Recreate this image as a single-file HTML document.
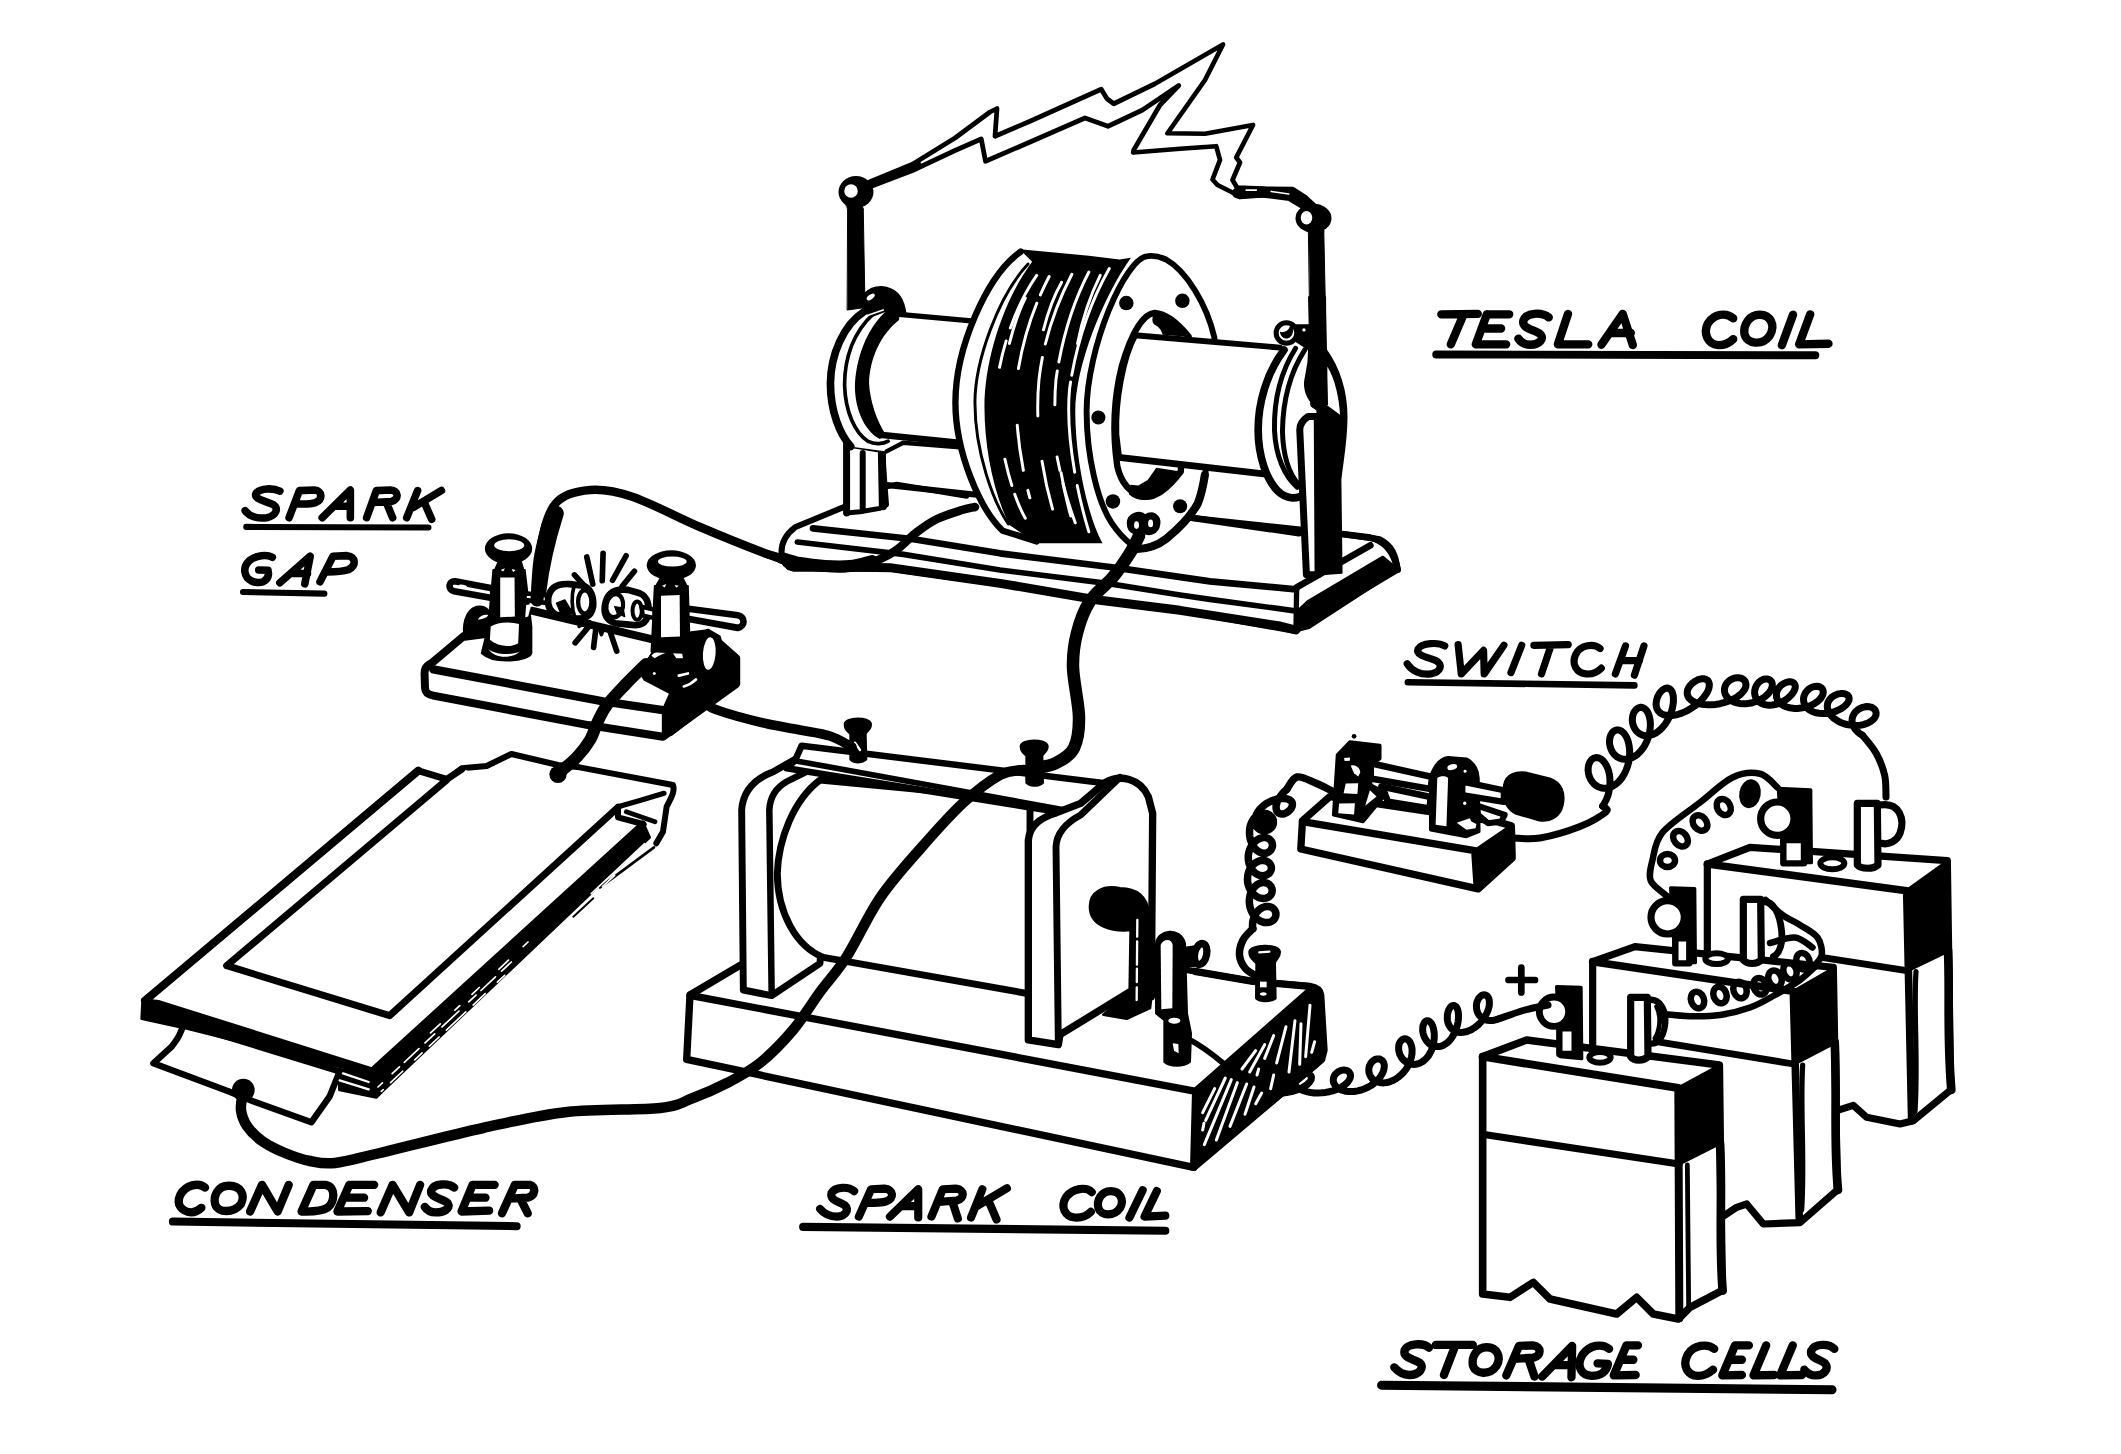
<!DOCTYPE html>
<html><head><meta charset="utf-8"><title>Tesla coil hookup</title>
<style>
html,body{margin:0;padding:0;background:#fff;}
body{width:2121px;height:1454px;overflow:hidden;font-family:"Liberation Sans",sans-serif;}
svg{display:block;}
.s{fill:none;stroke:#000;stroke-linecap:round;stroke-linejoin:round;}
.w{fill:#fff;stroke:#000;stroke-linecap:round;stroke-linejoin:round;}
.k{fill:#000;stroke:#000;stroke-linecap:round;stroke-linejoin:round;}
.wl{fill:none;stroke:#fff;stroke-linecap:round;stroke-linejoin:round;}
.wf{fill:#fff;stroke:none;}
.kf{fill:#000;stroke:none;}
</style></head><body>
<svg width="2121" height="1454" viewBox="0 0 2121 1454">
<rect x="0" y="0" width="2121" height="1454" fill="#fff"/>
<!-- 01_tesla_base.svg -->
<g transform="translate(740,300) scale(0.33333)" class="s" stroke-width="17">
<!-- base top surface + front, white fill -->
<path class="w" stroke-width="18" d="M440,555 L310,622 L165,682 C135,705 122,735 125,765 C128,790 140,800 160,806 L450,806 L780,852 L1044,896 L1320,932 L1665,993 L1973,809 C1968,765 1955,735 1920,718 L1806,702 L1359,654 Z"/>
<!-- front molding lines -->
<path d="M219,685 L516,717 L780,760 L1110,801 L1162,808 L1410,844 L1668,868" stroke-width="20"/>
<path d="M172,726 L490,763 L780,810 L1077,847 L1120,853 L1320,885 L1410,898 L1675,934" stroke-width="17"/>
<path d="M150,798 L450,803 L780,850 L1044,895 L1074,900 L1320,931 L1620,978 L1668,990" stroke-width="27"/>
<!-- right end -->
<path d="M1891,736 L1670,862" stroke-width="20"/>
<path class="k" stroke-width="10" d="M1704,905 L1928,772 L1973,809 L1707,982 L1665,993 L1672,935 Z"/>
<path d="M1670,862 L1668,990" stroke-width="16"/>
<!-- back edge (visible pieces) -->
<path d="M440,560 L470,553 L680,588" stroke-width="16"/>
<path d="M1359,654 L1677,700" stroke-width="19"/>
<path d="M1806,702 L1891,713 C1935,722 1962,755 1973,809" stroke-width="20"/>
</g>

<!-- 02_tesla_left.svg -->
<g transform="translate(780,280) scale(0.16644)" class="s" stroke-width="28">
<!-- post -->
<path class="w" stroke-width="30" d="M400,990 L400,1400 L480,1392 L600,1372 L640,1350 L615,1025 Z"/>
<path d="M400,985 L400,1400" stroke-width="42"/>
<path d="M497,1040 L497,1385" stroke-width="36"/>
<path d="M612,1030 L618,1360" stroke-width="48"/>
<!-- tube body white -->
<path class="wf" d="M700,200 L1180,240 L1090,985 L620,940 C420,900 400,400 700,200 Z"/>
<!-- outer arcs -->
<path class="wf" d="M500,190 C330,300 300,500 300,620 C300,800 360,930 420,1000 L640,1030 L640,190 Z"/>
<path d="M505,190 C380,270 305,450 303,620 C303,790 360,930 425,1000" stroke-width="46"/>
<path d="M565,200 C440,310 388,470 388,630 C392,790 450,920 530,970 C570,990 620,985 650,968" stroke-width="22"/>
<!-- tube end crescent -->
<path class="kf" d="M640,185 C520,290 452,480 450,650 C455,800 520,915 600,955 L640,935 C580,850 540,720 535,620 C538,480 600,330 715,240 L720,200 Z"/>
<!-- tube lines -->
<path d="M700,205 L1165,247" stroke-width="32"/>
<path d="M600,930 L1075,978" stroke-width="40"/>
<path d="M640,1030 L740,978 L1080,1005" stroke-width="26"/>
<!-- clamp -->
<path class="k" stroke-width="10" d="M505,85 C540,50 590,35 640,45 C700,60 745,110 755,205 L700,200 L640,185 L560,215 L500,195 Z"/>
<ellipse class="wf" cx="545" cy="102" rx="28" ry="14" transform="rotate(-35 545 102)"/>
<path class="wl" d="M520,215 L620,180" stroke-width="10"/>
</g>

<!-- 03_tesla_coil.svg -->
<g transform="translate(930,230) scale(0.22696)" class="s" stroke-width="24">
<!-- left tube behind coil -->

<!-- left flange white disc -->
<path class="wf" d="M400,95 C250,200 112,520 112,760 C112,980 220,1230 320,1325 L470,1370 L830,1372 L880,130 Z"/>
<path stroke-width="28" d="M400,95 C250,200 112,520 112,760 C112,980 220,1230 320,1325 L470,1372"/>
<path stroke-width="13" d="M432,150 C300,290 198,580 198,760 C198,980 280,1200 345,1295"/>
<!-- black windings -->
<path class="kf" d="M395,85 L560,100 L700,114 L835,130 L885,122 C760,300 640,600 640,800 C640,1000 690,1250 760,1380 L470,1380 L350,1300 C280,1160 240,960 240,780 C240,560 330,300 450,140 Z"/>
<!-- white slivers -->
<g class="wl" stroke-width="13">
<path d="M470,200 C400,300 330,460 300,640" stroke-dasharray="260 60 120 400"/>
<path d="M525,205 C460,330 410,470 385,640 C370,800 390,1000 440,1180" stroke-dasharray="90 40 300 250 200 90 200"/>
<path d="M625,195 C560,320 500,480 480,660 C465,820 480,1020 540,1230" stroke-dasharray="330 60 260 200 230"/>
<path d="M700,185 C630,320 580,480 555,660 C540,820 560,1040 620,1260" stroke-dasharray="420 40 150 300 250"/>
<path d="M790,170 C700,330 640,520 615,700 C600,860 630,1100 700,1330" stroke-dasharray="500 30 400 60 400"/>
<path d="M330,1010 C350,1100 380,1200 420,1270" stroke-dasharray="120 40 200"/>
<path d="M560,1000 C580,1100 600,1180 640,1290" stroke-dasharray="60 60 200"/>
<path d="M420,300 C390,360 370,420 350,500" />
<path d="M580,230 C540,300 520,360 500,440" />
<path d="M750,200 C700,300 670,400 650,500" />
</g>
<!-- right flange -->
<path class="w" stroke-width="26" d="M960,115 C860,120 690,520 690,800 C690,1000 740,1200 800,1290 C830,1335 860,1365 890,1388 C940,1420 1000,1395 1043,1359 C1090,1320 1150,1260 1180,1205 C1200,1160 1209,1101 1215,1060 C1240,960 1250,860 1250,760 C1262,600 1262,520 1252,470 C1220,330 1130,180 1040,130 C1010,116 985,112 960,115 Z"/>
<path d="M1211,1080 C1200,1150 1190,1180 1180,1205 C1150,1260 1090,1320 1043,1359 C1000,1392 950,1410 885,1405" stroke-width="36"/>
<!-- hole -->
<path class="w" stroke-width="28" d="M990,365 C930,370 880,480 845,600 C810,740 805,900 825,1040 C840,1110 880,1160 945,1176 C1010,1180 1070,1110 1105,1064 L1140,470 C1100,420 1050,370 990,365 Z"/>
<path class="kf" d="M985,370 C1050,375 1100,420 1135,470 L1025,462 C1020,440 1005,425 990,418 C975,405 980,385 985,370 Z"/>
<path class="kf" d="M997,1047 L959,1101 L918,1126 L884,1122 L876,1164 C900,1185 930,1192 951,1189 C980,1185 1005,1170 1026,1151 L1084,1081 L1105,1064 Z"/>
<!-- bolts -->
<circle class="kf" cx="865" cy="322" r="32"/>
<circle class="kf" cx="1112" cy="312" r="32"/>
<circle class="kf" cx="742" cy="826" r="31"/>
<circle class="kf" cx="806" cy="1196" r="32"/>
<circle class="kf" cx="1102" cy="1217" r="31"/>
<!-- terminal -->
<path class="k" stroke-width="10" d="M872,1292 C872,1250 925,1235 948,1258 C980,1235 1015,1258 1010,1295 C1005,1340 960,1348 942,1330 C915,1352 872,1335 872,1292 Z"/>
<ellipse class="wf" cx="910" cy="1300" rx="11" ry="17"/>
<ellipse class="wf" cx="972" cy="1293" rx="11" ry="17"/>
<!-- right tube -->
<path class="wf" d="M903,464 L1542,518 L1500,1078 L832,1002 C812,850 830,600 903,464 Z"/>
<path d="M903,464 L1542,518" stroke-width="26"/>
<path d="M832,1002 L1500,1078" stroke-width="30"/>
<path d="M903,464 C850,560 815,750 820,900 L832,1002" stroke-width="28"/>

</g>

<!-- 04_tesla_right.svg -->
<g transform="translate(1130,300) scale(0.16644)" class="s" stroke-width="28">
<!-- flange right edge double line -->

<!-- tube end flange -->
<path class="wf" d="M920,290 C760,500 730,900 820,1060 C880,1160 960,1200 1040,1170 L1040,290 Z"/>
<path d="M925,300 C820,440 770,620 770,780 C770,940 820,1080 890,1150 C940,1195 1000,1200 1040,1170" stroke-width="46"/>
<path d="M995,290 C900,440 865,620 868,780 C875,940 930,1060 1005,1125" stroke-width="30"/>
<path d="M1050,300 C960,440 918,620 916,790 C920,940 960,1050 1015,1110" stroke-width="30"/>
<!-- support board -->
<path class="k" stroke-width="10" d="M1175,295 C1250,400 1300,520 1302,700 C1302,850 1275,980 1265,1080 L1272,1640 L1130,1650 L1125,640 C1080,620 1050,560 1050,500 C1055,440 1075,410 1075,300 Z"/>
<path class="wf" d="M1185,400 C1230,470 1255,580 1262,690 L1180,630 Z"/>
<path class="w" stroke-width="42" d="M1125,700 L1070,700 C1040,720 1020,740 1020,780 L1060,1650 L1130,1650 Z"/>
<!-- rod -->
<path class="k" stroke-width="6" d="M1075,-20 L1175,-20 L1180,700 L1090,640 Z"/>
<!-- clamp -->
<path class="k" stroke-width="8" d="M1000,150 L1075,150 L1075,300 L1000,250 Z"/>
<circle class="w" cx="940" cy="198" r="62" stroke-width="30"/>
<path class="k" stroke-width="6" d="M905,195 C905,235 965,245 975,195 C985,165 965,150 965,150 C960,190 920,200 905,195 Z"/>
<circle class="wf" cx="1045" cy="180" r="10"/>
</g>

<!-- 05_tesla_top.svg -->
<g transform="translate(830,30) scale(0.25)" class="s" stroke-width="19">
<!-- posts -->
<path class="k" stroke-width="4" d="M72,715 L133,715 L140,1110 L70,1120 Z"/>
<path class="k" stroke-width="4" d="M1915,800 L1975,800 L1990,1500 L1925,1500 Z"/>
<!-- lightning -->
<path d="M160,607 L330,537 L500,432 L640,328 L668,314 L660,425 L800,365 L1085,237 L1108,275 L1135,295 L1300,215 L1572,58 L1500,200 L1350,413 L1500,415 L1692,380 L1625,510 L1640,530 L1610,600 L1628,630 L1750,635 L1850,636 L1900,668 L1935,700"/>
<path d="M165,625 L330,562 L500,482 L605,436 L622,525 L750,470 L1020,352 L1090,377 L1112,385 L1250,320 L1395,222 L1320,300 L1215,480 L1213,490 L1400,475 L1545,465 L1560,520 L1530,598 L1550,620 L1610,650 L1640,668 L1750,660 L1840,664 L1885,700"/>
<path stroke-width="30" d="M150,622 L350,538"/>
<path stroke-width="44" d="M1630,652 L1728,648 L1840,662 L1900,698"/>
<path class="wl" stroke-width="7" d="M1665,640 L1705,640 M1765,646 L1835,656"/>
<!-- balls -->
<ellipse cx="104" cy="648" rx="70" ry="64" class="kf"/>
<circle cx="84" cy="644" r="27" class="wf"/>
<path class="k" stroke-width="2" d="M60,690 L125,690 L135,720 L72,720 Z"/>
<ellipse cx="1934" cy="753" rx="72" ry="58" class="kf"/>
<ellipse cx="1906" cy="751" rx="23" ry="27" class="wf"/>
<path class="k" stroke-width="2" d="M1905,790 L1975,790 L1975,810 L1915,810 Z"/>
</g>

<!-- 10_sparkgap.svg -->
<g transform="translate(415,520) scale(0.16644)" class="s" stroke-width="40">
<!-- slab -->
<path class="w" stroke-width="48" d="M290,700 L100,860 C60,880 55,900 58,940 L60,1010 C62,1040 80,1050 110,1055 L1040,1232 L1490,1302 L1930,985 L1930,830 L1760,680 L1440,720 L700,545 L460,600 Z"/>
<path d="M110,897 L1130,1090 L1490,1142" stroke-width="50"/>
<!-- right black mass -->
<path class="k" stroke-width="14" d="M1490,1140 L1535,1040 L1380,960 L1345,905 L1385,860 L1440,780 L1640,720 L1700,690 L1760,660 L1830,700 L1850,780 L1930,830 L1930,985 L1540,1290 L1490,1300 Z"/>
<path class="kf" d="M1385,860 L1440,760 L1660,700 L1660,900 L1400,960 Z"/>
<ellipse class="wf" cx="1768" cy="802" rx="38" ry="98" transform="rotate(4 1768 802)"/>
<path class="wl" stroke-width="16" d="M1585,935 L1640,922"/>
<path class="wl" stroke-width="16" d="M1615,1000 C1650,990 1670,975 1688,958"/>
<path class="wf" d="M1420,815 C1440,790 1480,780 1530,790 C1500,800 1470,810 1440,830 Z"/>
<path class="wf" d="M1550,800 L1600,770 L1610,830 L1570,830 Z"/>
<circle class="wf" cx="1438" cy="922" r="9"/>
<!-- left rear small knob -->
<path class="k" stroke-width="10" d="M300,720 C280,640 300,540 370,520 C420,510 450,540 460,580 L460,700 Z"/>
<path class="wf" d="M378,600 C390,575 420,565 440,572 C430,590 400,595 378,600 Z"/>
<!-- left rod -->
<path class="w" stroke-width="40" d="M470,412 L240,368 C200,365 195,420 235,428 L470,470 Z"/>
<path class="wf" d="M262,395 a26,10 12 1 0 52,10 a26,10 12 1 0 -52,-10 Z"/>
<!-- left post body -->
<path class="k" stroke-width="10" d="M470,300 L660,300 L700,640 L700,800 C690,850 470,870 400,800 L440,640 Z"/>
<path class="wf" d="M512,345 L598,345 L600,580 L512,585 Z"/>
<path class="wf" d="M455,640 C500,610 570,610 625,625 L620,740 C570,770 500,760 450,720 Z"/>
<path class="wf" d="M440,775 C480,810 580,815 630,790 C580,835 480,835 440,775 Z"/>
<path class="kf" d="M500,240 L640,240 L660,310 L470,310 Z"/>
<path class="wf" d="M515,300 L540,290 L530,310 Z"/><path class="wf" d="M580,295 L605,300 L590,312 Z"/>
<ellipse class="kf" cx="562" cy="172" rx="142" ry="92"/>
<ellipse class="wf" cx="566" cy="152" rx="90" ry="36"/>
<!-- rod right of left post to electrode -->
<path class="w" stroke-width="28" d="M655,440 L810,455 L800,500 L660,480 Z"/>
<path class="wf" d="M668,510 L700,505 L680,580 L662,585 Z"/>
<!-- wire up from left post -->
<path d="M745,430 C760,300 790,150 850,-40" stroke-width="88"/>
<!-- left electrode -->
<path class="w" stroke-width="40" d="M800,470 C810,400 860,380 930,385 L1010,395 C1060,410 1075,470 1070,520 C1060,580 1020,600 960,590 L850,570 C810,550 795,520 800,470 Z"/>
<ellipse class="w" cx="1020" cy="492" rx="40" ry="70" stroke-width="26"/>
<path class="k" stroke-width="8" d="M850,500 L900,480 L930,530 L960,560 L880,570 Z"/>
<path d="M955,400 C940,450 940,530 960,585" stroke-width="22"/>
<path d="M760,560 L960,610" stroke-width="30"/>
<!-- right electrode -->
<path class="w" stroke-width="40" d="M1140,520 C1150,440 1200,410 1280,420 L1350,440 C1400,460 1410,520 1400,570 C1390,620 1350,640 1300,630 L1200,620 C1150,600 1135,570 1140,520 Z"/>
<ellipse class="w" cx="1200" cy="515" rx="50" ry="70" stroke-width="26" transform="rotate(10 1200 515)"/>
<ellipse class="w" cx="1335" cy="545" rx="28" ry="55" stroke-width="24"/>
<path class="k" stroke-width="8" d="M1200,520 L1250,530 L1260,580 L1215,560 Z"/>
<path class="w" stroke-width="26" d="M1360,520 L1440,540 L1440,590 L1370,575 Z"/>
<path d="M1180,650 L1440,720" stroke-width="30"/>
<!-- right post -->
<path class="k" stroke-width="10" d="M1440,395 L1640,395 L1650,720 L1640,800 L1420,790 Z"/>
<path class="wf" d="M1478,455 L1590,450 L1592,700 L1478,705 Z"/>
<path class="kf" d="M1480,330 L1605,330 L1640,400 L1440,400 Z"/>
<path class="wf" d="M1485,395 L1510,385 L1500,405 Z"/><path class="wf" d="M1560,390 L1585,395 L1570,407 Z"/>
<ellipse class="kf" cx="1540" cy="272" rx="148" ry="90"/>
<ellipse class="wf" cx="1546" cy="250" rx="86" ry="30"/>
<!-- right rod -->
<path class="w" stroke-width="40" d="M1630,532 L1940,572 C1985,580 1985,640 1940,648 L1630,592 Z"/>
<!-- spark rays -->
<g stroke-width="34">
<path d="M1130,200 L1125,365"/><path d="M1032,222 L1068,385"/><path d="M958,330 L1040,420"/>
<path d="M1268,215 L1187,362"/><path d="M1318,308 L1245,398"/>
<path d="M962,738 L1040,645"/><path d="M1073,765 L1088,640"/><path d="M1212,788 L1165,650"/>
<path d="M985,640 L1050,610 L1020,660" stroke-width="20"/><path d="M1100,640 L1120,690 L1140,640" stroke-width="20"/>
</g>
</g>

<!-- 20_condenser.svg -->
<g transform="translate(100,730) scale(0.33333)" class="s" stroke-width="18">
<!-- back foil tab -->
<path class="wf" d="M1040,150 L1085,115 L1160,108 L1234,72 L1374,105 L1439,112 L1719,165 C1725,185 1715,200 1700,230 L1689,305 L1669,340 L1554,262 L1554,230 Z"/>
<path stroke-width="18" d="M1040,150 L1085,115 L1160,108 L1234,72 L1374,105 L1439,112 L1719,165 C1725,185 1715,200 1700,230 L1689,305 L1669,340"/>
<path d="M1554,230 C1610,215 1660,200 1692,190" stroke-width="15.6"/>
<path d="M1579,245 L1665,275" stroke-width="14.4"/>
<!-- front foil tab -->
<path class="w" stroke-width="19.2" d="M250,880 C245,910 230,930 215,950 L160,1000 L385,1084 L459,1114 L634,1177 L689,1099 L719,1024 Z"/>
<!-- side stack (black band) -->
<path class="k" stroke-width="10" d="M1629,280 L1648,322 L846,1084 L829,1101 L719,1079 L719,1020 L824,1017 Z"/>
<path d="M1662,352 L1500,472" stroke-width="8"/>
<path d="M1480,505 L1420,560" stroke-width="6"/>
<g class="wl" stroke-width="5">
<path d="M1634,341 L1474,491" />
<path d="M1544,436 L1314,651" stroke-dasharray="50 30 20 60 40 30"/>
<path d="M1234,696 L834,1071" stroke-dasharray="40 25 60 20 30 40 70 30"/>
<path d="M1214,736 L844,1084" stroke-dasharray="30 50 50 30 80 30 40 30"/>
<path d="M1284,636 L984,916" stroke-dasharray="20 60 40 80 30 50"/>
<path d="M729,1030 L806,1056" stroke-width="7"/>
<path d="M719,1051 L806,1078" stroke-width="7"/>
</g>
<!-- top plate -->
<path class="wf" d="M955,122 L1040,148 L1085,118 L1554,232 L1554,262 L1629,282 L824,1017 L135,812 Z"/>
<path stroke-width="20.4" d="M135,812 L955,122 L1040,148 L1085,118"/>
<path stroke-width="18" d="M1554,232 L1554,262 L1629,282"/>
<path d="M955,122 L135,812" stroke-width="24"/>
<path class="k" stroke-width="8" d="M128,808 L180,815 L829,1020 L829,1030 L719,1010 L245,892 L125,866 Z"/>
<path d="M1629,283 L824,1017" stroke-width="21.6"/>
<!-- inner foil -->
<path d="M1040,150 L380,707 L869,857 L1554,232" stroke-width="21"/>
<!-- solder blobs -->
<circle class="kf" cx="1374" cy="133" r="26"/>
<circle class="kf" cx="430" cy="1080" r="34"/>
</g>

<!-- 30_sparkcoil.svg -->
<g transform="translate(660,700) scale(0.33333)" class="s" stroke-width="19.5">
<!-- base -->
<path class="w" stroke-width="22" d="M90,885 L250,790 L1574,809 L1779,844 L1949,859 C1970,862 1980,870 1982,885 L1992,1050 L1985,1078 L1601,1402 L80,1078 Z"/>
<path class="wf" d="M250,700 L1600,700 L1600,850 L250,850 Z"/>
<path d="M90,886 L1607,1174 L1601,1402" stroke-width="22"/>
<path d="M1607,1174 L1950,872" stroke-width="22"/>
<path d="M1574,809 L1779,844 L1949,859" stroke-width="19.5"/>
<!-- hatching right end -->
<path class="k" stroke-width="12" d="M1607,1174 L1950,875 L1982,884 L1991,1039 L1969,1098 L1832,1211 L1628,1384 L1601,1402 Z"/>
<g class="wl" stroke-width="9">
<path d="M1787,1052 L1746,1107"/><path d="M1814,1034 L1769,1116"/><path d="M1841,1007 L1814,1075"/>
<path d="M1878,980 L1850,1089"/><path d="M1905,962 L1887,1116"/><path d="M1923,971 L1919,1093"/>
<path d="M1950,916 L1937,1070"/><path d="M1964,1025 L1955,1057"/><path d="M1841,1125 L1832,1166"/>
<path d="M1796,1107 L1791,1125"/>
<path d="M1664,1166 L1628,1238"/><path d="M1696,1134 L1637,1261"/><path d="M1714,1139 L1633,1334"/>
<path d="M1732,1148 L1669,1320"/><path d="M1760,1152 L1710,1279"/><path d="M1782,1161 L1755,1243"/>
<path d="M1805,1179 L1787,1211"/><path d="M1632,1270 L1628,1290"/>
</g>
<!-- left cheek -->
<path class="w" stroke-width="20.7" d="M250,870 L245,330 C250,260 300,230 340,215 L440,158 L520,175 L480,790 L335,887 Z"/>
<path d="M335,885 L328,330 C330,290 350,262 380,245 L450,210" stroke-width="19.5"/>
<!-- coil cylinder -->
<path class="w" stroke-width="20.7" d="M480,240 C400,300 355,420 352,520 C352,640 410,740 490,772 L1110,882 L1110,300 Z"/>
<!-- top bar -->
<path class="w" stroke-width="19.5" d="M380,205 L405,182 L425,137 L1335,250 L1269,340 L1258,346 Z"/>
<path d="M405,182 L1269,340" stroke-width="17"/>
<!-- right cheek -->
<path class="w" stroke-width="22" d="M1105,1020 L1105,420 C1110,370 1150,350 1190,338 L1262,310 L1335,248 C1380,222 1440,235 1465,290 L1478,340 L1474,890 L1409,876 L1200,1004 L1195,1034 Z"/>
<path d="M1195,1030 L1188,440 C1190,400 1215,370 1262,345 L1380,232" stroke-width="20.7"/>
<!-- vibrator -->
<path class="k" stroke-width="8" d="M1290,620 C1290,575 1330,555 1380,565 C1430,565 1462,590 1466,640 L1484,800 L1470,924 L1400,956 L1330,944 L1409,880 L1412,690 C1360,695 1290,680 1290,620 Z"/>
<path class="wl" stroke-width="7" d="M1432,660 L1430,900" stroke-dasharray="50 14 70 12 40 16"/>
<!-- contact post -->
<path class="k" stroke-width="8" d="M1489,730 C1495,690 1560,680 1574,730 L1580,940 L1592,1000 L1589,1085 C1570,1100 1530,1100 1514,1085 L1514,960 L1489,940 Z"/>
<path class="wf" d="M1502,735 C1510,715 1535,715 1538,735 L1537,925 L1504,928 Z"/>
<ellipse class="wf" cx="1543" cy="962" rx="18" ry="9"/>
<path class="wf" d="M1538,1030 L1555,1032 L1556,1060 L1542,1052 Z"/>
<ellipse class="w" cx="1622" cy="762" rx="18" ry="32" stroke-width="22" transform="rotate(12 1622 762)"/>
<path class="kf" d="M1574,740 L1610,735 L1605,800 L1578,805 Z"/>
<path d="M1589,1019 C1630,1040 1660,1065 1689,1089" stroke-width="17.1"/>
<!-- binding post 3 -->
<path class="k" stroke-width="8" d="M1769,755 C1770,735 1855,730 1859,755 C1860,775 1845,778 1844,790 L1846,895 C1830,905 1800,905 1789,895 L1790,790 C1780,778 1768,775 1769,755 Z"/>
<path class="wl" stroke-width="7" d="M1798,757 L1828,755"/>
<path class="wf" d="M1800,845 L1820,845 L1820,862 L1800,862 Z"/><ellipse class="wf" cx="1810" cy="882" rx="10" ry="5"/>
<!-- binding posts 1,2 on top bar -->
<path class="k" stroke-width="8" d="M555,72 C556,52 628,50 632,72 C633,90 618,92 616,102 L618,178 C605,190 580,188 572,178 L572,102 C565,92 554,90 555,72 Z"/>
<path class="wl" stroke-width="7" d="M585,128 L600,150"/>
<path class="k" stroke-width="8" d="M1083,138 C1084,118 1158,116 1162,138 C1163,156 1148,158 1146,168 L1148,248 C1135,260 1108,258 1100,248 L1100,168 C1093,158 1082,156 1083,138 Z"/>
</g>

<!-- 40_switch.svg -->
<g transform="translate(1280,715) scale(0.16644)" class="s" stroke-width="42">
<!-- slab -->
<path class="w" stroke-width="44" d="M135,635 L300,490 L1300,640 L1390,665 L1395,860 L1190,1045 L125,805 Z"/>
<path d="M135,640 L1170,815 L1185,1040" stroke-width="44"/>
<path class="k" stroke-width="20" d="M1170,815 L1390,665 L1395,860 L1190,1045 Z"/>
<!-- lever blades -->
<path class="w" stroke-width="40" d="M545,290 L915,372 L905,445 L545,382 Z"/>
<path class="w" stroke-width="40" d="M610,430 L905,492 L900,562 L650,522 Z"/>
<!-- hinge post -->
<path class="k" stroke-width="20" d="M345,240 L420,162 L600,182 L600,262 L545,300 L545,420 L640,470 L500,640 L322,600 Z"/>
<path class="wf" d="M385,258 L420,256 L420,275 L388,276 Z"/>
<path class="wf" d="M425,305 C450,295 480,315 482,345 L470,370 L445,350 Z"/>
<path class="wf" d="M395,412 L470,410 L465,475 L382,470 Z"/>
<path class="wf" d="M355,532 L450,530 L445,598 L350,590 Z"/>
<path class="wf" d="M540,452 L580,490 L512,545 Z"/>
<circle class="kf" cx="445" cy="128" r="14"/>
<!-- right post -->
<path class="k" stroke-width="20" d="M905,372 C930,300 960,262 1010,256 L1120,265 C1170,290 1190,340 1190,380 L1195,700 L1120,730 L905,690 Z"/>
<path class="wf" d="M945,380 C960,365 1000,365 1010,380 L1000,668 L935,660 Z"/>
<ellipse class="wf" cx="1035" cy="313" rx="30" ry="17" transform="rotate(-15 1035 313)"/>
<circle class="wf" cx="1112" cy="338" r="9"/>
<path class="wf" d="M1062,648 L1120,690 L1175,680 L1180,655 L1150,640 L1140,620 Z"/>
<circle class="wf" cx="1110" cy="530" r="10"/>
<!-- handle -->
<path class="w" stroke-width="38" d="M1095,400 L1345,452 L1345,522 L1095,482 Z"/>
<path class="w" stroke-width="36" d="M1185,545 L1350,600 L1330,640 L1250,650 L1190,600 Z"/>
<path class="k" stroke-width="20" d="M1350,420 C1360,360 1420,340 1480,350 L1620,385 C1690,410 1710,470 1695,540 C1680,610 1620,640 1560,630 L1420,590 C1360,560 1340,500 1350,420 Z"/>
</g>

<!-- 50_cells.svg -->
<g transform="translate(1400,860) scale(0.33333)" class="s" stroke-width="20.4">
<!-- ===== cell 3 (back) ===== -->
<path class="w" stroke-width="21.6" d="M922,12 L1050,-38 L1642,2 L1652,690 L1540,782 L1500,792 L1400,772 L1360,736 L1310,752 L922,700 Z"/>
<path class="k" stroke-width="10" d="M1520,92 L1642,4 L1640,275 L1522,332 Z"/>
<path d="M922,12 L1520,92 L1535,782" stroke-width="22.8"/>
<path d="M1265,292 L1520,332" stroke-width="20.4"/>
<path d="M1548,335 C1540,450 1555,600 1545,755" stroke-width="15.6"/>
<path d="M1644,270 C1650,400 1640,520 1654,690" stroke-width="26"/>
<!-- c3 terminals -->
<path class="k" stroke-width="10" d="M1135,-215 L1232,-210 L1234,8 L1150,8 Z"/>
<path class="w" stroke-width="19.2" d="M1150,-60 L1212,-60 L1212,10 L1150,10 Z"/>
<circle class="w" cx="1132" cy="-124" r="50" stroke-width="21.6"/>
<path class="w" stroke-width="21.6" d="M1372,-170 L1432,-170 L1434,15 C1420,28 1385,28 1372,15 Z"/>
<path d="M1440,-165 C1500,-175 1515,-120 1500,-80 C1490,-55 1465,-45 1445,-50" stroke-width="21.6"/>
<ellipse class="w" cx="1297" cy="10" rx="36" ry="18" stroke-width="18"/>
<!-- ===== cell 2 (middle) ===== -->
<path class="w" stroke-width="21.6" d="M578,305 L705,260 L1300,322 L1312,990 L1200,1088 L1090,1092 L1040,1032 L1010,1042 L965,1072 L578,1000 Z"/>
<path class="k" stroke-width="10" d="M1180,394 L1300,325 L1305,548 L1182,612 Z"/>
<path d="M578,305 L1180,394 L1198,1085" stroke-width="22.8"/>
<path d="M770,545 L1180,612" stroke-width="20.4"/>
<path d="M1208,615 C1200,750 1215,900 1205,1050" stroke-width="15.6"/>
<path d="M1304,545 C1312,700 1300,850 1314,990" stroke-width="26"/>
<!-- c2 terminals -->
<path class="k" stroke-width="10" d="M812,84 L884,86 L886,308 L825,308 Z"/>
<path class="w" stroke-width="19.2" d="M826,235 L868,235 L868,310 L826,310 Z"/>
<circle class="w" cx="803" cy="172" r="50" stroke-width="21.6"/>
<path class="w" stroke-width="21.6" d="M1030,118 L1082,118 L1084,300 C1070,314 1042,314 1030,300 Z"/>
<path d="M1085,125 C1120,120 1140,160 1145,215 C1148,250 1140,280 1120,290" stroke-width="20.4"/>
<ellipse class="w" cx="950" cy="296" rx="34" ry="16" stroke-width="18"/>
<!-- ===== cell 1 (front) ===== -->
<path class="w" stroke-width="22.8" d="M248,590 L380,540 L958,615 L966,1292 L870,1342 L835,1377 L760,1362 L710,1312 L650,1362 L450,1317 L400,1267 L330,1312 L248,1302 Z"/>
<path class="k" stroke-width="10" d="M835,684 L957,618 L960,850 L837,912 Z"/>
<path d="M248,590 L835,684 L838,1375" stroke-width="24"/>
<path d="M262,825 L837,912" stroke-width="21.6"/>
<path d="M862,915 L866,1340" stroke-width="14.4"/>
<path d="M960,850 C968,1000 956,1150 968,1292" stroke-width="26"/>
<!-- c1 terminals -->
<path class="k" stroke-width="10" d="M470,380 L543,382 L545,596 L480,590 Z"/>
<path class="w" stroke-width="19.2" d="M478,505 L524,505 L524,582 L478,582 Z"/>
<circle class="w" cx="462" cy="455" r="44" stroke-width="20.4"/>
<path class="w" stroke-width="21.6" d="M692,412 L742,412 L744,590 C730,604 702,604 692,590 Z"/>
<path d="M745,420 C780,415 800,450 795,495 C790,535 770,555 748,550" stroke-width="19.2"/>
<path d="M770,440 C785,470 780,510 765,535" stroke-width="14.4"/>
<ellipse class="w" cx="600" cy="592" rx="32" ry="16" stroke-width="18"/>
</g>

<!-- 60_wires.svg -->
<g>
<path class="s" stroke-width="8.5" d="M537.0,597.0 C537.7,588.3 537.8,560.7 541.0,545.0 C544.2,529.3 547.8,512.2 556.0,503.0 C564.2,493.8 577.2,491.0 590.0,490.0 C602.8,489.0 614.7,490.8 633.0,497.0 C651.3,503.2 677.7,517.5 700.0,527.0 C722.3,536.5 750.3,547.7 767.0,554.0 C783.7,560.3 794.5,563.2 800.0,565.0" />
<path class="s" stroke-width="13" d="M537.0,600.0 C537.5,593.3 538.2,572.5 540.0,560.0 C541.8,547.5 546.7,530.8 548.0,525.0" />
<path class="s" stroke-width="8.5" d="M767.0,554.0 C771.7,555.3 786.2,559.8 795.0,562.0 C803.8,564.2 811.7,566.0 820.0,567.0 C828.3,568.0 836.7,568.7 845.0,568.0 C853.3,567.3 861.7,565.8 870.0,563.0 C878.3,560.2 887.2,556.2 895.0,551.0 C902.8,545.8 910.0,537.3 917.0,532.0 C924.0,526.7 929.5,522.7 937.0,519.0 C944.5,515.3 955.7,512.0 962.0,510.0 C968.3,508.0 972.8,507.5 975.0,507.0" />
<path class="s" stroke-width="12" d="M782.0,558.0 C785.0,558.8 792.8,561.7 800.0,563.0 C807.2,564.3 816.7,565.5 825.0,566.0 C833.3,566.5 842.2,566.8 850.0,566.0 C857.8,565.2 868.3,561.8 872.0,561.0" />
<path class="s" stroke-width="12.5" d="M1139.0,536.0 C1137.5,538.8 1134.3,546.2 1130.0,553.0 C1125.7,559.8 1119.7,569.0 1113.0,577.0 C1106.3,585.0 1096.0,591.7 1090.0,601.0 C1084.0,610.3 1079.8,622.0 1077.0,633.0 C1074.2,644.0 1072.7,653.0 1073.0,667.0 C1073.3,681.0 1078.8,703.5 1079.0,717.0 C1079.2,730.5 1077.8,740.3 1074.0,748.0 C1070.2,755.7 1062.3,759.7 1056.0,763.0 C1049.7,766.3 1039.3,767.2 1036.0,768.0" />
<path class="s" stroke-width="9.5" d="M700.0,698.0 C702.0,699.7 705.3,704.8 712.0,708.0 C718.7,711.2 730.7,714.3 740.0,717.0 C749.3,719.7 758.0,721.8 768.0,724.0 C778.0,726.2 789.7,728.0 800.0,730.0 C810.3,732.0 821.3,733.2 830.0,736.0 C838.7,738.8 848.3,745.2 852.0,747.0" />
<path class="s" stroke-width="12" d="M646.0,664.0 C642.5,667.5 631.5,678.2 625.0,685.0 C618.5,691.8 611.5,699.0 607.0,705.0 C602.5,711.0 600.8,715.2 598.0,721.0 C595.2,726.8 593.5,734.0 590.0,740.0 C586.5,746.0 582.0,751.7 577.0,757.0 C572.0,762.3 562.8,769.5 560.0,772.0" />
<path class="s" stroke-width="10.5" d="M243.0,1092.0 C242.7,1095.0 240.3,1104.3 241.0,1110.0 C241.7,1115.7 243.5,1120.8 247.0,1126.0 C250.5,1131.2 255.7,1136.5 262.0,1141.0 C268.3,1145.5 277.0,1149.7 285.0,1153.0 C293.0,1156.3 301.7,1159.3 310.0,1161.0 C318.3,1162.7 323.3,1164.3 335.0,1163.0 C346.7,1161.7 355.3,1158.8 380.0,1153.0 C404.7,1147.2 451.8,1134.8 483.0,1128.0 C514.2,1121.2 537.5,1115.3 567.0,1112.0 C596.5,1108.7 639.0,1110.3 660.0,1108.0 C681.0,1105.7 681.8,1102.2 693.0,1098.0 C704.2,1093.8 715.8,1088.8 727.0,1083.0 C738.2,1077.2 749.0,1071.8 760.0,1063.0 C771.0,1054.2 783.0,1041.8 793.0,1030.0 C803.0,1018.2 811.1,1004.2 820.0,992.0 C828.9,979.8 836.5,972.7 846.5,957.0 C856.5,941.3 867.6,916.2 880.0,898.0 C892.4,879.8 907.2,863.8 921.0,848.0 C934.8,832.2 949.8,815.2 963.0,803.0 C976.2,790.8 989.8,780.5 1000.0,775.0 C1010.2,769.5 1020.0,770.8 1024.0,770.0" />
</g>
<g class="s">
<path stroke-width="7" d="M1602.7,806.2 L1604.7,802.8 L1606.5,799.2 L1608.0,795.3 L1609.0,791.2 L1609.7,787.1 L1610.0,782.9 L1609.9,778.9 L1609.5,775.0 L1608.7,771.3 L1607.6,768.0 L1606.2,765.1 L1604.6,762.6 L1602.9,760.5 L1601.0,759.0 L1599.1,758.0 L1597.1,757.6 L1595.2,757.7 L1593.5,758.3 L1591.9,759.4 L1590.5,761.0 L1589.4,762.9 L1588.6,765.3 L1588.2,767.8 L1588.1,770.5 L1588.5,773.3 L1589.2,776.1 L1590.3,778.8 L1591.8,781.2 L1593.6,783.4 L1595.7,785.3 L1598.1,786.8 L1600.7,787.7 L1603.4,788.2 L1606.3,788.2 L1609.2,787.6 L1612.1,786.5 L1615.0,784.8 L1617.7,782.6 L1620.2,780.0 L1622.5,777.0 L1624.5,773.6 L1626.2,769.9 L1627.6,766.0 L1628.7,762.0 L1629.3,757.9 L1629.7,753.9 L1629.6,750.0 L1629.2,746.2 L1628.5,742.8 L1627.6,739.6 L1626.3,736.8 L1624.9,734.5 L1623.3,732.6 L1621.6,731.2 L1619.9,730.3 L1618.1,729.9 L1616.4,730.0 L1614.8,730.6 L1613.4,731.5 L1612.1,732.9 L1611.0,734.6 L1610.2,736.7 L1609.7,738.9 L1609.5,741.4 L1609.6,743.9 L1610.1,746.4 L1610.9,748.9 L1612.0,751.3 L1613.4,753.4 L1615.2,755.3 L1617.2,756.9 L1619.5,758.1 L1621.9,758.9 L1624.5,759.2 L1627.2,759.1 L1629.9,758.5 L1632.6,757.4 L1635.3,755.9 L1637.9,753.9 L1640.3,751.5 L1642.5,748.8 L1644.6,745.7 L1646.3,742.4 L1647.8,738.9 L1648.9,735.3 L1649.7,731.7 L1650.2,728.1 L1650.4,724.6 L1650.2,721.2 L1649.7,718.2 L1649.0,715.4 L1648.0,712.9 L1646.8,710.9 L1645.4,709.3 L1643.9,708.2 L1642.3,707.5 L1640.7,707.3 L1639.1,707.6 L1637.5,708.4 L1636.1,709.5 L1634.8,711.1 L1633.7,712.9 L1632.9,715.1 L1632.5,717.4 L1632.3,719.9 L1632.5,722.4 L1633.1,724.9 L1634.0,727.2 L1635.2,729.4 L1636.7,731.4 L1638.5,733.0 L1640.6,734.3 L1642.8,735.2 L1645.2,735.7 L1647.8,735.7 L1650.4,735.3 L1653.1,734.4 L1655.7,733.1 L1658.2,731.4 L1660.7,729.3 L1663.0,726.8 L1665.2,724.1 L1667.1,721.1 L1668.8,718.0 L1670.3,714.7 L1671.5,711.4 L1672.4,708.1 L1673.0,704.9 L1673.4,701.8 L1673.4,698.9 L1673.3,696.3 L1672.8,694.0 L1672.2,692.1 L1671.4,690.5 L1670.3,689.3 L1669.1,688.5 L1667.8,688.1 L1666.5,688.1 L1665.0,688.5 L1663.6,689.3 L1662.1,690.4 L1660.6,691.9 L1659.3,693.6 L1658.2,695.6 L1657.2,697.8 L1656.6,700.0 L1656.2,702.3 L1656.1,704.5 L1656.4,706.7 L1657.0,708.8 L1658.1,710.7 L1659.5,712.3 L1661.3,713.6 L1663.4,714.6 L1665.9,715.3 L1668.7,715.6 L1671.7,715.5 L1674.9,715.1 L1678.3,714.3 L1681.8,713.1 L1685.3,711.6 L1688.7,709.8 L1692.1,707.7 L1695.3,705.5 L1698.2,703.0 L1700.9,700.5 L1703.3,697.9 L1705.3,695.2 L1707.0,692.7 L1708.2,690.2 L1709.0,687.8 L1709.3,685.7 L1709.3,683.8 L1708.8,682.2 L1708.0,680.8 L1706.8,679.8 L1705.4,679.1 L1703.8,678.8 L1702.0,678.8 L1700.0,679.1 L1698.1,679.7 L1696.2,680.6 L1694.3,681.8 L1692.5,683.1 L1690.8,684.7 L1689.4,686.4 L1688.3,688.3 L1687.5,690.2 L1687.2,692.1 L1687.3,694.1 L1687.8,696.0 L1688.8,697.8 L1690.3,699.4 L1692.3,700.9 L1694.7,702.2 L1697.5,703.3 L1700.7,704.1 L1704.2,704.6 L1708.0,704.8 L1711.9,704.7 L1715.9,704.4 L1719.9,703.7 L1723.9,702.7 L1727.7,701.5 L1731.3,700.1 L1734.6,698.4 L1737.5,696.6 L1740.1,694.7 L1742.2,692.6 L1743.9,690.6 L1745.1,688.5 L1745.8,686.5 L1746.0,684.6 L1745.7,682.9 L1745.1,681.3 L1744.0,680.0 L1742.7,679.0 L1741.1,678.2 L1739.2,677.8 L1737.3,677.7 L1735.4,677.9 L1733.5,678.4 L1731.6,679.2 L1729.8,680.3 L1728.2,681.6 L1726.8,683.1 L1725.7,684.8 L1725.0,686.7 L1724.5,688.6 L1724.4,690.6 L1724.7,692.6 L1725.4,694.5 L1726.5,696.4 L1728.0,698.1 L1729.8,699.6 L1731.9,701.0 L1734.3,702.1 L1737.0,702.9 L1739.9,703.5 L1743.0,703.7 L1746.1,703.7 L1749.3,703.3 L1752.4,702.7 L1755.5,701.7 L1758.5,700.6 L1761.2,699.2 L1763.8,697.6 L1766.0,695.8 L1768.0,693.9 L1769.6,692.0 L1770.8,690.1 L1771.7,688.2 L1772.2,686.3 L1772.3,684.6 L1772.1,683.0 L1771.6,681.7 L1770.7,680.6 L1769.6,679.7 L1768.3,679.2 L1766.8,678.9 L1765.2,679.0 L1763.6,679.4 L1762.0,680.0 L1760.4,681.0 L1759.0,682.2 L1757.7,683.6 L1756.6,685.2 L1755.7,687.0 L1755.1,688.9 L1754.7,690.9 L1754.6,692.9 L1754.9,694.9 L1755.4,696.8 L1756.3,698.6 L1757.5,700.3 L1758.9,701.7 L1760.6,703.0 L1762.6,703.9 L1764.8,704.6 L1767.2,705.0 L1769.7,705.2 L1772.3,705.0 L1775.0,704.5 L1777.7,703.8 L1780.3,702.8 L1782.9,701.5 L1785.3,700.1 L1787.5,698.5 L1789.6,696.7 L1791.3,694.9 L1792.8,693.1 L1793.9,691.2 L1794.7,689.5 L1795.2,687.8 L1795.3,686.2 L1795.0,684.9 L1794.4,683.7 L1793.5,682.8 L1792.4,682.2 L1790.9,681.8 L1789.3,681.8 L1787.6,682.0 L1785.8,682.6 L1784.0,683.4 L1782.2,684.5 L1780.6,685.8 L1779.2,687.4 L1778.0,689.1 L1777.1,691.0 L1776.6,693.0 L1776.4,695.0 L1776.5,697.0 L1777.1,699.0 L1778.1,700.8 L1779.5,702.6 L1781.3,704.2 L1783.4,705.5 L1785.8,706.7 L1788.5,707.5 L1791.5,708.1 L1794.5,708.4 L1797.7,708.4 L1800.9,708.1 L1804.1,707.6 L1807.2,706.7 L1810.2,705.7 L1812.9,704.4 L1815.4,702.9 L1817.6,701.3 L1819.5,699.6 L1821.0,697.9 L1822.1,696.1 L1822.9,694.4 L1823.2,692.7 L1823.2,691.2 L1822.8,689.8 L1822.1,688.6 L1821.1,687.7 L1819.9,686.9 L1818.4,686.5 L1816.8,686.3 L1815.0,686.4 L1813.2,686.8 L1811.4,687.5 L1809.6,688.5 L1808.0,689.8 L1806.6,691.3 L1805.4,692.9 L1804.5,694.8 L1803.8,696.7 L1803.5,698.7 L1803.6,700.7 L1804.0,702.7 L1804.7,704.7 L1805.9,706.5 L1807.3,708.2 L1809.2,709.7 L1811.3,711.0 L1813.6,712.0 L1816.2,712.8 L1819.0,713.3 L1822.0,713.6 L1824.9,713.5 L1828.0,713.2 L1831.0,712.7 L1833.9,711.9 L1836.7,710.9 L1839.2,709.7 L1841.6,708.4 L1843.7,706.9 L1845.5,705.4 L1846.9,703.8 L1848.0,702.2 L1848.8,700.7 L1849.1,699.2 L1849.1,697.9 L1848.7,696.7 L1848.0,695.6 L1847.0,694.8 L1845.7,694.1 L1844.2,693.7 L1842.5,693.5 L1840.6,693.6 L1838.7,693.9 L1836.8,694.4 L1834.9,695.2 L1833.1,696.3 L1831.4,697.6 L1830.0,699.1 L1828.8,700.8 L1827.9,702.6 L1827.4,704.7 L1827.3,706.8 L1827.6,708.9 L1828.3,711.1 L1829.4,713.3 L1830.9,715.4 L1832.8,717.4 L1835.1,719.2 L1837.6,720.9 L1840.5,722.4 L1843.6,723.6 L1846.9,724.5 L1850.2,725.1 L1853.6,725.4 L1857.0,725.4 L1860.3,725.2 L1863.4,724.6 L1866.2,723.7 L1868.8,722.6 L1871.0,721.3 L1872.9,719.8 L1874.4,718.2 L1875.4,716.5 L1876.0,714.8 L1876.1,713.1 L1875.8,711.5 L1875.1,710.1 L1874.0,708.8 L1872.6,707.8 L1870.9,707.1 L1869.0,706.7 L1867.0,706.6 L1864.9,706.8 L1862.7,707.3 L1860.6,708.2 L1858.5,709.3 L1856.7,710.7 L1855.1,712.3 L1853.8,714.2 L1852.8,716.3 L1852.2,718.5 L1852.0,720.7 L1852.3,723.1 L1853.0,725.4 L1854.1,727.6 L1855.6,729.8 L1857.6,731.8 L1859.9,733.7 L1862.5,735.3"/>
<path class="s" stroke-width="7" d="M1513.0,838.0 C1517.5,838.0 1528.8,839.9 1540.0,838.0 C1551.2,836.1 1569.0,830.8 1580.0,826.5 C1591.0,822.2 1602.2,815.4 1606.0,812.0 C1609.8,808.6 1603.2,807.2 1602.7,806.2" />
<path class="s" stroke-width="7" d="M1862.5,735.3 C1864.8,738.2 1872.3,746.4 1876.0,753.0 C1879.7,759.6 1882.9,767.7 1884.6,775.0 C1886.3,782.3 1885.8,793.3 1886.0,797.0" />
<path stroke-width="7.5" d="M1286.7,789.5 L1284.5,791.4 L1282.5,793.5 L1280.8,795.6 L1279.3,797.8 L1278.0,800.0 L1277.1,802.2 L1276.4,804.3 L1276.1,806.3 L1276.1,808.1 L1276.4,809.7 L1276.9,811.1 L1277.7,812.2 L1278.7,813.1 L1279.9,813.6 L1281.2,813.9 L1282.6,814.0 L1284.1,813.7 L1285.5,813.2 L1286.9,812.5 L1288.2,811.5 L1289.4,810.6 L1290.4,809.5 L1291.2,808.3 L1291.9,807.0 L1292.3,805.7 L1292.4,804.4 L1292.3,803.2 L1291.8,802.0 L1291.0,800.9 L1289.8,800.0 L1288.3,799.3 L1286.5,798.7 L1284.4,798.5 L1282.0,798.4 L1279.5,798.7 L1276.8,799.2 L1274.0,800.0 L1271.2,801.1 L1268.4,802.5 L1265.7,804.1 L1263.2,806.0 L1261.0,808.0 L1259.0,810.3 L1257.4,812.6 L1256.2,815.0 L1255.4,817.4 L1255.0,819.7 L1255.0,822.0 L1255.4,824.1 L1256.2,825.9 L1257.4,827.6 L1258.9,828.9 L1260.6,829.9 L1262.4,830.5 L1264.4,830.7 L1266.3,830.5 L1268.2,829.9 L1269.8,829.0 L1271.3,827.7 L1272.4,826.2 L1273.1,824.4 L1273.4,822.5 L1273.3,820.7 L1272.7,818.8 L1271.7,817.2 L1270.4,815.8 L1268.9,814.6 L1267.0,813.8 L1265.0,813.4 L1262.9,813.4 L1260.8,813.8 L1258.7,814.6 L1256.7,815.9 L1254.9,817.5 L1253.2,819.5 L1251.9,821.8 L1250.8,824.3 L1250.0,827.0 L1249.6,829.9 L1249.5,832.8 L1249.7,835.8 L1250.2,838.6 L1251.0,841.3 L1252.1,843.9 L1253.3,846.2 L1254.8,848.2 L1256.4,849.9 L1258.1,851.2 L1259.9,852.3 L1261.6,852.9 L1263.4,853.3 L1265.0,853.3 L1266.6,853.0 L1268.0,852.4 L1269.2,851.6 L1270.3,850.7 L1271.2,849.5 L1271.8,848.3 L1272.3,847.1 L1272.5,845.8 L1272.4,844.4 L1272.1,842.9 L1271.6,841.6 L1270.7,840.4 L1269.7,839.4 L1268.4,838.5 L1266.9,837.9 L1265.2,837.6 L1263.5,837.6 L1261.6,837.9 L1259.8,838.5 L1257.9,839.4 L1256.1,840.6 L1254.4,842.1 L1252.8,843.9 L1251.5,845.9 L1250.3,848.1 L1249.4,850.5 L1248.7,853.0 L1248.3,855.6 L1248.3,858.2 L1248.5,860.8 L1249.0,863.3 L1249.8,865.6 L1250.8,867.8 L1252.1,869.8 L1253.6,871.6 L1255.2,873.1 L1257.0,874.2 L1258.9,875.1 L1260.7,875.6 L1262.6,875.8 L1264.4,875.7 L1266.0,875.2 L1267.5,874.5 L1268.8,873.6 L1269.9,872.4 L1270.7,871.1 L1271.2,869.7 L1271.4,868.2 L1271.3,866.7 L1270.8,865.3 L1270.1,864.0 L1269.1,862.8 L1267.9,861.8 L1266.4,861.1 L1264.8,860.6 L1263.0,860.4 L1261.2,860.5 L1259.3,860.9 L1257.4,861.7 L1255.5,862.8 L1253.8,864.1 L1252.2,865.8 L1250.7,867.7 L1249.5,869.9 L1248.6,872.2 L1247.9,874.7 L1247.6,877.2 L1247.5,879.9 L1247.7,882.5 L1248.3,885.0 L1249.1,887.4 L1250.2,889.7 L1251.6,891.8 L1253.1,893.6 L1254.8,895.2 L1256.7,896.5 L1258.6,897.5 L1260.6,898.1 L1262.5,898.4 L1264.4,898.4 L1266.1,898.1 L1267.7,897.5 L1269.1,896.7 L1270.3,895.6 L1271.2,894.3 L1271.8,892.9 L1272.1,891.5 L1272.2,890.0 L1271.9,888.4 L1271.3,887.0 L1270.4,885.7 L1269.3,884.5 L1267.9,883.6 L1266.4,883.0 L1264.7,882.6 L1262.9,882.6 L1261.0,882.9 L1259.1,883.5 L1257.3,884.5 L1255.6,885.9 L1254.0,887.5 L1252.6,889.4 L1251.4,891.6 L1250.4,894.0 L1249.8,896.6 L1249.4,899.3 L1249.3,902.0 L1249.6,904.8 L1250.1,907.5 L1251.0,910.1 L1252.1,912.5 L1253.4,914.8 L1255.0,916.8 L1256.8,918.6 L1258.7,920.1 L1260.6,921.2 L1262.7,922.0 L1264.7,922.5 L1266.7,922.6 L1268.5,922.5 L1270.3,922.0 L1271.8,921.2 L1273.2,920.3 L1274.3,919.1 L1275.1,917.7 L1275.7,916.3 L1275.9,914.8 L1275.9,913.3 L1275.5,911.8 L1274.9,910.4 L1273.9,909.2 L1272.8,908.1 L1271.4,907.3 L1269.8,906.7 L1268.1,906.5 L1266.2,906.5 L1264.4,906.9 L1262.5,907.6 L1260.6,908.6 L1258.9,909.9 L1257.3,911.6 L1255.9,913.5 L1254.7,915.7 L1253.7,918.1 L1253.0,920.6 L1252.6,923.3 L1252.5,926.0 L1252.8,928.7"/>
<ellipse cx="1264" cy="822" rx="10" ry="8" fill="#000" stroke="#000" stroke-width="6"/>
<path class="s" stroke-width="7.5" d="M1332.0,791.0 C1329.2,789.7 1321.3,785.3 1315.5,783.0 C1309.7,780.7 1301.8,775.9 1297.0,777.0 C1292.2,778.1 1288.4,787.4 1286.7,789.5" />
<path class="s" stroke-width="7.5" d="M1252.8,928.7 C1251.1,930.6 1245.2,935.6 1243.0,940.0 C1240.8,944.4 1239.2,950.3 1239.5,955.0 C1239.8,959.7 1242.2,964.5 1245.0,968.0 C1247.8,971.5 1254.2,974.7 1256.0,976.0" />
</g>
<g transform="translate(1500,740) scale(0.25)" class="s">
<path class="s" stroke-width="26" d="M1110.0,190.0 C1098.3,180.8 1070.0,141.7 1040.0,135.0 C1010.0,128.3 970.0,130.8 930.0,150.0 C890.0,169.2 846.7,213.3 800.0,250.0 C753.3,286.7 681.7,331.7 650.0,370.0 C618.3,408.3 618.0,448.3 610.0,480.0 C602.0,511.7 595.3,538.3 602.0,560.0 C608.7,581.7 635.3,596.7 650.0,610.0 C664.7,623.3 683.3,635.0 690.0,640.0" />
<ellipse cx="1000" cy="215" rx="30" ry="45" transform="rotate(10 1000 215)" fill="#000" stroke="#000" stroke-width="26"/>
<ellipse cx="895" cy="268" rx="26" ry="34" transform="rotate(-30 895 268)" fill="none" stroke="#000" stroke-width="26"/>
<ellipse cx="800" cy="332" rx="26" ry="34" transform="rotate(-40 800 332)" fill="none" stroke="#000" stroke-width="26"/>
<ellipse cx="722" cy="395" rx="26" ry="34" transform="rotate(-40 722 395)" fill="none" stroke="#000" stroke-width="26"/>
<ellipse cx="670" cy="482" rx="30" ry="26" transform="rotate(0 670 482)" fill="none" stroke="#000" stroke-width="26"/>
<ellipse cx="790" cy="1040" rx="26" ry="34" transform="rotate(-20 790 1040)" fill="none" stroke="#000" stroke-width="26"/>
<ellipse cx="880" cy="1020" rx="26" ry="34" transform="rotate(-20 880 1020)" fill="none" stroke="#000" stroke-width="26"/>
<ellipse cx="960" cy="1000" rx="26" ry="34" transform="rotate(-20 960 1000)" fill="none" stroke="#000" stroke-width="26"/>
<ellipse cx="1040" cy="985" rx="26" ry="34" transform="rotate(-20 1040 985)" fill="none" stroke="#000" stroke-width="26"/>
<ellipse cx="1100" cy="955" rx="26" ry="34" transform="rotate(-20 1100 955)" fill="none" stroke="#000" stroke-width="26"/>
<ellipse cx="1160" cy="925" rx="26" ry="34" transform="rotate(-20 1160 925)" fill="none" stroke="#000" stroke-width="26"/>
<ellipse cx="1212" cy="885" rx="26" ry="34" transform="rotate(-20 1212 885)" fill="none" stroke="#000" stroke-width="26"/>
<path class="s" stroke-width="26" d="M640.0,1095.0 C660.0,1096.7 720.0,1104.2 760.0,1105.0 C800.0,1105.8 840.0,1105.8 880.0,1100.0 C920.0,1094.2 963.3,1083.3 1000.0,1070.0 C1036.7,1056.7 1066.7,1038.3 1100.0,1020.0 C1133.3,1001.7 1173.0,979.2 1200.0,960.0 C1227.0,940.8 1251.7,914.2 1262.0,905.0" />
<path class="s" stroke-width="26" d="M1062.0,640.0 C1073.3,650.0 1107.0,683.3 1130.0,700.0 C1153.0,716.7 1176.7,725.0 1200.0,740.0 C1223.3,755.0 1255.5,770.0 1270.0,790.0 C1284.5,810.0 1289.5,840.8 1287.0,860.0 C1284.5,879.2 1260.3,897.5 1255.0,905.0" />
<path class="s" stroke-width="26" d="M1080.0,812.0 C1096.7,808.3 1151.7,787.0 1180.0,790.0 C1208.3,793.0 1238.3,823.3 1250.0,830.0" />
</g>
<g class="s">
<path stroke-width="7" d="M1498.1,1019.0 L1495.4,1019.9 L1492.7,1020.5 L1490.1,1020.6 L1487.6,1020.3 L1485.3,1019.7 L1483.2,1018.8 L1481.4,1017.5 L1479.8,1016.0 L1478.5,1014.2 L1477.5,1012.2 L1476.8,1010.1 L1476.5,1008.0 L1476.4,1005.8 L1476.6,1003.7 L1477.1,1001.7 L1477.9,999.9 L1478.8,998.2 L1479.9,996.9 L1481.1,995.9 L1482.4,995.2 L1483.7,994.8 L1485.0,994.9 L1486.2,995.3 L1487.3,996.1 L1488.2,997.3 L1488.9,998.9 L1489.3,1000.8 L1489.4,1003.0 L1489.3,1005.4 L1488.7,1007.9 L1487.9,1010.7 L1486.7,1013.4 L1485.2,1016.2 L1483.4,1018.9 L1481.4,1021.5 L1479.1,1024.0 L1476.6,1026.2 L1474.0,1028.1 L1471.3,1029.7 L1468.6,1030.9 L1465.8,1031.8 L1463.1,1032.3 L1460.5,1032.4 L1458.1,1032.2 L1455.8,1031.5 L1453.8,1030.5 L1452.0,1029.2 L1450.5,1027.6 L1449.3,1025.7 L1448.3,1023.7 L1447.7,1021.5 L1447.3,1019.3 L1447.3,1017.1 L1447.4,1014.9 L1447.8,1012.8 L1448.4,1010.9 L1449.1,1009.2 L1450.0,1007.7 L1451.0,1006.6 L1452.0,1005.8 L1453.0,1005.5 L1454.1,1005.5 L1455.1,1005.9 L1456.1,1006.7 L1456.9,1007.9 L1457.6,1009.5 L1458.1,1011.4 L1458.4,1013.6 L1458.5,1016.1 L1458.4,1018.8 L1458.1,1021.6 L1457.5,1024.6 L1456.7,1027.5 L1455.7,1030.4 L1454.4,1033.3 L1452.9,1036.0 L1451.3,1038.4 L1449.4,1040.7 L1447.4,1042.6 L1445.3,1044.1 L1443.1,1045.4 L1440.9,1046.2 L1438.7,1046.6 L1436.5,1046.6 L1434.3,1046.3 L1432.3,1045.5 L1430.3,1044.5 L1428.6,1043.1 L1427.0,1041.4 L1425.7,1039.5 L1424.5,1037.5 L1423.7,1035.3 L1423.1,1033.1 L1422.7,1030.9 L1422.7,1028.8 L1422.8,1026.8 L1423.3,1025.0 L1423.9,1023.5 L1424.7,1022.2 L1425.7,1021.3 L1426.6,1020.8 L1427.7,1020.7 L1428.7,1020.9 L1429.8,1021.6 L1430.8,1022.6 L1431.7,1024.0 L1432.6,1025.8 L1433.3,1028.0 L1433.8,1030.4 L1434.2,1033.0 L1434.3,1035.9 L1434.2,1038.9 L1433.8,1041.9 L1433.2,1045.0 L1432.3,1048.0 L1431.1,1051.0 L1429.7,1053.7 L1428.1,1056.3 L1426.2,1058.5 L1424.1,1060.5 L1421.9,1062.0 L1419.6,1063.2 L1417.2,1064.0 L1414.8,1064.4 L1412.4,1064.3 L1410.0,1063.9 L1407.8,1063.0 L1405.7,1061.8 L1403.9,1060.3 L1402.2,1058.5 L1400.9,1056.5 L1399.8,1054.4 L1399.1,1052.1 L1398.7,1049.9 L1398.6,1047.6 L1398.8,1045.5 L1399.3,1043.6 L1400.1,1041.9 L1401.2,1040.6 L1402.4,1039.5 L1403.6,1039.0 L1404.9,1038.8 L1406.2,1039.0 L1407.5,1039.6 L1408.8,1040.6 L1409.9,1042.0 L1410.8,1043.8 L1411.5,1045.9 L1412.0,1048.4 L1412.1,1051.0 L1412.0,1053.9 L1411.4,1057.0 L1410.6,1060.1 L1409.4,1063.2 L1407.8,1066.3 L1405.9,1069.3 L1403.7,1072.1 L1401.2,1074.7 L1398.5,1077.0 L1395.7,1079.0 L1392.7,1080.6 L1389.7,1081.8 L1386.7,1082.5 L1383.7,1082.9 L1380.9,1082.8 L1378.3,1082.2 L1375.9,1081.3 L1373.8,1080.1 L1372.1,1078.5 L1370.7,1076.7 L1369.7,1074.7 L1369.0,1072.6 L1368.8,1070.4 L1368.9,1068.2 L1369.4,1066.1 L1370.3,1064.2 L1371.4,1062.5 L1372.7,1061.1 L1374.2,1060.0 L1375.8,1059.2 L1377.4,1058.9 L1379.0,1058.9 L1380.5,1059.4 L1381.8,1060.2 L1382.9,1061.3 L1383.7,1062.8 L1384.2,1064.6 L1384.3,1066.7 L1384.0,1068.9 L1383.3,1071.3 L1382.2,1073.8 L1380.7,1076.3 L1378.8,1078.8 L1376.5,1081.2 L1373.9,1083.5 L1371.0,1085.5 L1367.9,1087.3 L1364.6,1088.8 L1361.2,1090.0 L1357.7,1090.9 L1354.3,1091.5 L1350.9,1091.6 L1347.7,1091.5 L1344.7,1091.0 L1342.0,1090.2 L1339.6,1089.1 L1337.5,1087.8 L1335.8,1086.3 L1334.6,1084.6 L1333.7,1082.9 L1333.3,1081.1 L1333.3,1079.3 L1333.6,1077.5 L1334.3,1075.8 L1335.3,1074.3 L1336.6,1073.0 L1338.1,1071.9 L1339.7,1071.0 L1341.4,1070.4 L1343.1,1070.1 L1344.8,1070.1 L1346.4,1070.4 L1347.8,1071.0 L1349.0,1071.9 L1349.8,1073.1 L1350.4,1074.5 L1350.5,1076.1 L1350.2,1077.8 L1349.4,1079.6 L1348.2,1081.4 L1346.6,1083.3 L1344.5,1085.0 L1342.1,1086.7 L1339.3,1088.3 L1336.1,1089.7 L1332.7,1090.8 L1329.2,1091.7 L1325.5,1092.4 L1321.7,1092.8 L1317.9,1093.0 L1314.3,1092.9 L1310.7,1092.5 L1307.4,1091.9 L1304.4,1091.0 L1301.6,1090.0 L1299.3,1088.8 L1297.3,1087.4 L1295.8,1086.0 L1294.7,1084.5 L1294.0,1083.0 L1293.8,1081.5 L1293.9,1080.0 L1294.5,1078.6 L1295.3,1077.3 L1296.5,1076.2 L1297.9,1075.2 L1299.5,1074.5 L1301.1,1073.9 L1302.9,1073.5 L1304.6,1073.4 L1306.2,1073.4 L1307.8,1073.7 L1309.1,1074.2 L1310.2,1075.0 L1311.0,1075.9 L1311.4,1077.0 L1311.4,1078.3 L1311.1,1079.7 L1310.3,1081.2 L1309.0,1082.7 L1307.4,1084.3 L1305.3,1085.8 L1302.9,1087.3 L1300.1,1088.6 L1297.0,1089.9 L1293.7,1091.0 L1290.2,1091.9 L1286.5,1092.6 L1282.8,1093.1 L1279.1,1093.4"/>
<path class="s" stroke-width="7" d="M1548.0,1005.0 C1544.2,1005.8 1533.3,1007.7 1525.0,1010.0 C1516.7,1012.3 1502.6,1017.5 1498.1,1019.0" />
<path class="s" stroke-width="7" d="M1279.1,1093.4 C1277.9,1094.1 1273.2,1097.2 1272.0,1098.0" />
<path stroke-width="6.7" d="M1521.3,967.5 L1521.3,992.5 M1508.5,980 L1535,980"/>
</g>

<!-- 70_labels.svg -->
<!-- TESLA COIL -->
<g transform="translate(1420,290) scale(0.20273)" class="s" stroke-width="41.2">
<path d="M105,120 L285,118 M215,120 L152,268"/>
<path d="M330,120 L275,268 L425,268 M330,120 L440,120 M305,190 L400,190"/>
<path d="M635,135 C600,108 525,110 510,150 C500,190 560,195 590,215 C620,240 585,270 545,270 C515,270 495,255 485,240"/>
<path d="M730,118 L680,268 L830,268"/>
<path d="M895,270 L1000,118 L1050,272 M935,212 L1040,212"/>
<path d="M1545,140 C1510,108 1450,118 1420,165 C1395,215 1420,268 1470,272 C1505,272 1530,258 1545,242"/>
<path d="M1675,122 C1625,122 1595,170 1600,215 C1610,270 1690,275 1725,225 C1755,175 1730,122 1675,122 Z"/>
<path d="M1840,122 L1785,272"/>
<path d="M1925,120 L1870,268 L2015,265"/>
<path d="M80,318 L1950,322" stroke-width="39.1"/>
</g>
<!-- SPARK GAP -->
<g transform="translate(230,470) scale(0.10843)" class="s" stroke-width="70">
<path d="M460,195 C400,165 280,165 240,215 C215,270 330,285 400,320 C450,350 430,420 340,440 C260,450 180,430 140,375"/>
<path d="M545,440 L640,190 L780,185 C850,190 860,270 790,300 C730,320 660,315 600,312"/>
<path d="M850,440 L1110,185 L1110,440 M960,335 L1110,335"/>
<path d="M1260,440 L1350,190 L1480,185 C1560,190 1560,270 1490,290 L1320,300 M1440,295 L1500,440"/>
<path d="M1630,440 L1730,190 M1950,190 L1690,345 M1790,295 L1860,455"/>
<path d="M150,525 L1830,530" stroke-width="56.6"/>
<path d="M390,805 C340,775 240,785 180,835 C110,900 130,990 200,1025 C280,1055 350,1030 355,960 L350,925 L265,922"/>
<path d="M460,1040 L740,795 L690,1050 M560,955 L715,955"/>
<path d="M830,1030 L950,795 L1080,790 C1160,800 1170,880 1090,920 C1030,940 950,940 900,940"/>
<path d="M120,1125 L870,1140" stroke-width="56.6"/>
</g>
<!-- SWITCH -->
<g transform="translate(1390,630) scale(0.12730)" class="s" stroke-width="56.6">
<path d="M430,125 C380,95 250,100 220,150 C200,200 300,215 360,240 C420,270 400,330 320,345 C240,355 170,320 135,265"/>
<path d="M535,115 L560,345 L735,160 L740,345 L895,120"/>
<path d="M1035,120 L950,335"/>
<path d="M1130,120 L1400,115 M1265,120 L1190,345"/>
<path d="M1650,145 C1600,105 1500,115 1460,190 C1420,270 1470,340 1540,345 C1600,350 1640,320 1660,300"/>
<path d="M1850,125 L1770,345 M1995,125 L1920,355 M1810,240 L1960,240"/>
<path d="M140,410 L1920,435" stroke-width="51.5"/>
</g>
<!-- CONDENSER -->
<g transform="translate(160,1160) scale(0.18387)" class="s" stroke-width="45.3">
<path d="M245,150 C210,120 140,135 110,190 C85,245 120,280 170,285 C200,285 215,270 225,260"/>
<path d="M375,140 C310,140 290,200 300,240 C315,290 400,290 440,240 C465,190 440,140 375,140 Z"/>
<path d="M490,280 L555,135 L640,280 L700,135"/>
<path d="M770,280 L835,135 L900,135 C960,145 950,230 910,260 C880,280 830,282 770,280"/>
<path d="M1030,135 L965,280 L1130,278 M1030,135 L1165,135 M1000,205 L1110,205"/>
<path d="M1200,285 L1265,135 L1355,285 L1415,135"/>
<path d="M1600,150 C1570,125 1490,125 1475,165 C1465,205 1540,210 1565,235 C1585,265 1540,285 1500,285 C1470,285 1450,270 1440,255"/>
<path d="M1700,135 L1640,280 L1790,275 M1700,135 L1820,135 M1675,205 L1770,205"/>
<path d="M1860,290 L1930,135 L2010,135 C2050,145 2040,195 2000,205 L1900,210 M1960,210 L2000,290"/>
<path d="M70,335 L1940,360" stroke-width="43.3"/>
</g>
<!-- SPARK COIL -->
<g transform="translate(790,1160) scale(0.18859)" class="s" stroke-width="43.3">
<path d="M340,165 C310,140 240,140 220,175 C210,215 260,220 290,240 C320,265 290,300 250,300 C210,300 180,285 160,260"/>
<path d="M365,300 L430,155 L500,152 C550,155 555,205 510,220 C480,230 440,228 405,226"/>
<path d="M530,300 L680,155 L680,305 M590,245 L680,245"/>
<path d="M750,300 L810,155 L880,152 C930,158 925,205 885,215 L790,222 M860,218 L890,310"/>
<path d="M960,305 L1020,155 M1150,150 L990,245 M1050,210 L1095,315"/>
<path d="M1600,170 C1570,140 1500,150 1465,195 C1430,250 1460,300 1510,305 C1550,308 1580,290 1595,275"/>
<path d="M1700,165 C1650,165 1625,215 1635,255 C1650,300 1720,300 1750,255 C1775,210 1750,165 1700,165 Z"/>
<path d="M1870,160 L1800,305"/>
<path d="M1945,165 L1880,300 L1990,295"/>
<path d="M70,355 L1990,375" stroke-width="43.3"/>
</g>
<!-- STORAGE CELLS -->
<g transform="translate(1370,1320) scale(0.23102)" class="s" stroke-width="36.1">
<path d="M255,120 C230,98 165,100 150,130 C140,165 190,168 215,185 C240,208 210,238 170,238 C140,238 120,222 105,205"/>
<path d="M285,108 L445,108 M370,108 L320,238"/>
<path d="M505,118 C460,118 440,160 445,195 C455,238 520,240 548,198 C570,160 550,118 505,118 Z"/>
<path d="M590,240 L645,112 L705,110 C745,115 742,155 708,163 L625,168 M685,165 L712,245"/>
<path d="M745,245 L875,112 L872,248 M800,195 L872,195"/>
<path d="M1035,125 C1005,100 950,108 920,150 C890,200 915,240 960,242 C1000,242 1025,222 1030,190 L985,188"/>
<path d="M1110,110 L1055,240 L1150,238 M1110,110 L1160,110 M1085,172 L1140,172"/>
<path d="M1490,125 C1460,100 1400,108 1375,150 C1350,200 1375,240 1420,242 C1450,242 1470,228 1485,215"/>
<path d="M1580,110 L1525,240 L1610,238 M1580,110 L1640,110 M1555,172 L1610,172"/>
<path d="M1715,110 L1660,240 L1750,238"/>
<path d="M1830,110 L1775,240 L1870,238"/>
<path d="M2010,125 C1985,100 1925,102 1910,132 C1900,165 1950,170 1970,188 C1990,210 1965,240 1930,240 C1905,240 1890,228 1880,215"/>
<path d="M50,282 L2000,302" stroke-width="39.1"/>
</g>

</svg>
</body></html>
